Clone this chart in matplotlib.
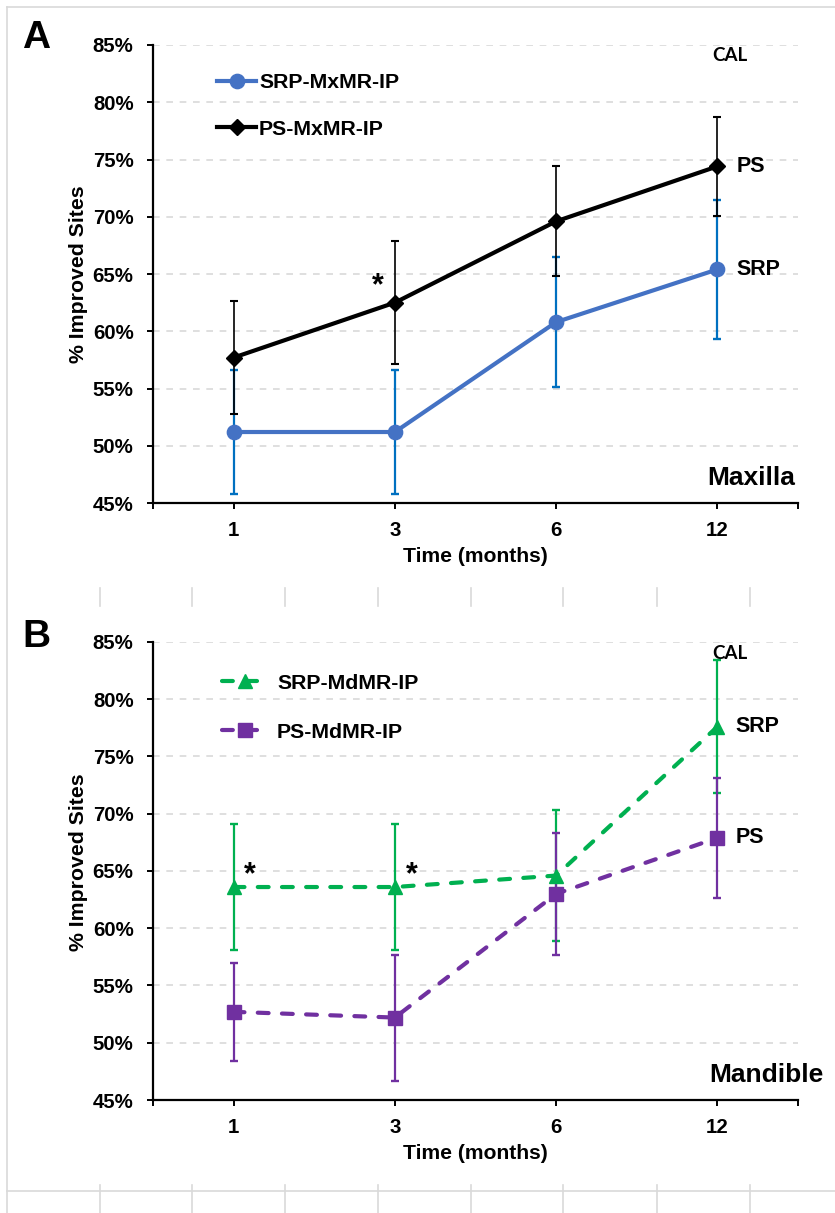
import matplotlib
matplotlib.use("Agg")
import matplotlib.pyplot as plt
from matplotlib.ticker import PercentFormatter

plt.rcParams["font.family"] = ["Liberation Sans", "DejaVu Sans"]
plt.rcParams["font.weight"] = "bold"

months = ["1", "3", "6", "12"]
yticks = [45, 50, 55, 60, 65, 70, 75, 80, 85]

# Maxilla
srp_mx = [51.2, 51.2, 60.8, 65.4]
srp_mx_err = [5.4, 5.4, 5.7, 6.1]
ps_mx = [57.7, 62.5, 69.6, 74.4]
ps_mx_err = [4.9, 5.4, 4.8, 4.3]

# Mandible
srp_md = [63.6, 63.6, 64.6, 77.6]
srp_md_err = [5.5, 5.5, 5.7, 5.8]
ps_md = [52.7, 52.2, 63.0, 67.9]
ps_md_err = [4.3, 5.5, 5.3, 5.25]

GRID = "#d9d9d9"

fig = plt.figure(figsize=(8.35, 12.13), dpi=100)

# faint sheet cell lines behind the charts
bg = fig.add_axes([0, 0, 1, 1], zorder=-5)
bg.set_xlim(0, 835)
bg.set_ylim(1213, 0)
bg.axis("off")
bg.plot([7, 7], [7, 1213], color=GRID, lw=1.2)
bg.plot([7, 835], [7, 7], color=GRID, lw=1.2)
bg.plot([7, 835], [1191, 1191], color=GRID, lw=1.2)
for cx in [100, 192, 285, 378, 471, 563, 657, 750]:
    bg.plot([cx, cx], [588, 606], color=GRID, lw=1.2)
    bg.plot([cx, cx], [1185, 1213], color=GRID, lw=1.2)


def style_axes(ax):
    x = range(len(months))
    ax.set_xlim(-0.5, len(months) - 0.5)
    ax.set_ylim(45, 85)
    ax.set_yticks(yticks)
    ax.yaxis.set_major_formatter(PercentFormatter(decimals=0))
    ax.set_xticks(list(x))
    ax.set_xticklabels(months)
    ax.set_xticks([-0.5, len(months) - 0.5], minor=True)
    ax.spines["top"].set_visible(False)
    ax.spines["right"].set_visible(False)
    ax.spines["left"].set_linewidth(1.6)
    ax.spines["bottom"].set_linewidth(1.6)
    ax.tick_params(axis="y", length=4, width=1.4, pad=10, labelsize=14.7)
    ax.tick_params(axis="x", which="both", length=4, width=1.4, pad=9, labelsize=14.7)
    for v in yticks[1:]:
        ax.axhline(v, color=GRID, lw=1.2, ls=(0, (4, 4)), zorder=0)
    ax.set_xlabel("Time (months)", fontsize=15.2, fontweight="bold")
    ax.xaxis.set_label_coords(0.5, -0.096)
    ax.set_ylabel("% Improved Sites", fontsize=15.3, fontweight="bold")


LEG = {"size": 15.3, "weight": "bold"}

# ---------------- panel A ----------------
ax1 = fig.add_axes([153 / 835, 1 - 503 / 1213, 645 / 835, 458 / 1213])
style_axes(ax1)
ax1.yaxis.set_label_coords(-0.1, 0.5)
x = list(range(len(months)))

ax1.errorbar(x, srp_mx, yerr=srp_mx_err, fmt="none", ecolor="#0070c0",
             elinewidth=1.6, capsize=3.2, capthick=1.7, zorder=2)
ax1.plot(x, srp_mx, color="#4472c4", lw=3, marker="o", ms=10.3,
         label="SRP-MxMR-IP", zorder=3)
ax1.errorbar(x, ps_mx, yerr=ps_mx_err, fmt="none", ecolor="black",
             elinewidth=1.2, capsize=3.2, capthick=1.5, zorder=4)
ax1.plot(x, ps_mx, color="black", lw=3, marker="D", ms=8.5,
         label="PS-MxMR-IP", zorder=5)

ax1.legend(loc="upper left", bbox_to_anchor=(0.0992, 0.939), frameon=False,
           borderpad=0, borderaxespad=0, handlelength=1.84, handletextpad=0.14,
           labelspacing=1.3, numpoints=1, prop=LEG)

ax1.annotate("PS", (3, ps_mx[3]), xytext=(14, 0), textcoords="offset points",
             ha="left", va="center", fontsize=15.5, fontweight="bold")
ax1.annotate("SRP", (3, srp_mx[3]), xytext=(14, 0), textcoords="offset points",
             ha="left", va="center", fontsize=15.5, fontweight="bold")
ax1.annotate("*", (1, ps_mx[1]), xytext=(-12, 1), textcoords="offset points",
             ha="center", va="bottom", fontsize=22, fontweight="bold")
ax1.text(0.995, 0.055, "Maxilla", transform=ax1.transAxes, ha="right",
         va="center", fontsize=19, fontweight="bold")
ax1.text(0.895, 0.976, "CAL", transform=ax1.transAxes, ha="center",
         va="center", fontsize=13.5, fontweight="bold", family=["Lato", "DejaVu Sans"])
fig.text(36 / 835, 1 - 38 / 1213, "A", ha="center", va="center",
         fontsize=28, fontweight="bold")

# ---------------- panel B ----------------
ax2 = fig.add_axes([153 / 835, 1 - 1100 / 1213, 645 / 835, 458 / 1213])
style_axes(ax2)
ax2.yaxis.set_label_coords(-0.1, 0.52)

dash = (0, (2.6, 3.2))
ax2.errorbar(x, srp_md, yerr=srp_md_err, fmt="none", ecolor="#00b050",
             elinewidth=1.6, capsize=3.2, capthick=1.7, zorder=2)
ax2.errorbar(x, ps_md, yerr=ps_md_err, fmt="none", ecolor="#7030a0",
             elinewidth=1.6, capsize=3.2, capthick=1.7, zorder=3)
ax2.plot(x, ps_md, color="#7030a0", lw=3, ls=dash, dash_capstyle="round",
         marker="s", ms=10, label="PS-MdMR-IP", zorder=4)
ax2.plot(x, srp_md, color="#00b050", lw=3, ls=dash, dash_capstyle="round",
         marker="^", ms=10, label="SRP-MdMR-IP", zorder=5)

h, l = ax2.get_legend_handles_labels()
ax2.legend(h[::-1], l[::-1], loc="upper left", bbox_to_anchor=(0.107, 0.9305),
           frameon=False, borderpad=0, borderaxespad=0, handlelength=2.17,
           handletextpad=0.42, labelspacing=1.4, numpoints=1, prop=LEG)

ax2.annotate("SRP", (3, srp_md[3]), xytext=(13, 0), textcoords="offset points",
             ha="left", va="center", fontsize=15.5, fontweight="bold")
ax2.annotate("PS", (3, ps_md[3]), xytext=(13, 0), textcoords="offset points",
             ha="left", va="center", fontsize=15.5, fontweight="bold")
for i in [0, 1]:
    ax2.annotate("*", (i, srp_md[i]), xytext=(12, -2), textcoords="offset points",
                 ha="center", va="bottom", fontsize=22, fontweight="bold")
ax2.text(1.04, 0.055, "Mandible", transform=ax2.transAxes, ha="right",
         va="center", fontsize=19, fontweight="bold")
ax2.text(0.895, 0.974, "CAL", transform=ax2.transAxes, ha="center",
         va="center", fontsize=13.5, fontweight="bold", family=["Lato", "DejaVu Sans"])
fig.text(36 / 835, 1 - 637 / 1213, "B", ha="center", va="center",
         fontsize=28, fontweight="bold")

fig.savefig("out.png", dpi=100)
